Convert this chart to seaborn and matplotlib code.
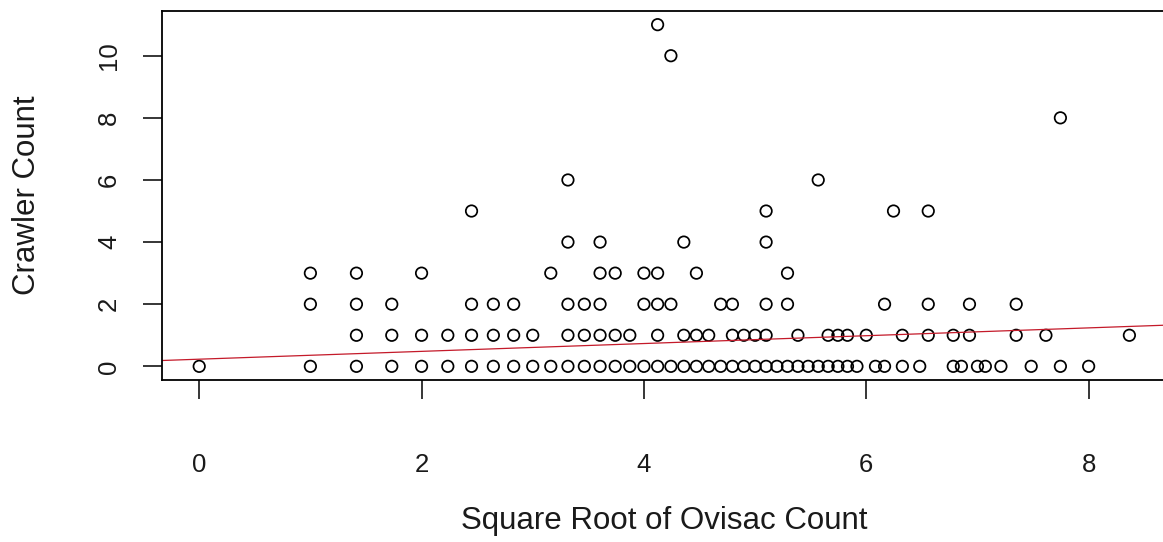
import numpy as np
import pandas as pd
import matplotlib
matplotlib.use("Agg")
import matplotlib.pyplot as plt
import seaborn as sns

# ---- data (ovisac counts grouped by crawler count) ----
ovisac_crawler_0 = [0, 1, 2, 3, 4, 5, 6, 7, 8, 9, 10, 11, 12, 13, 14, 15, 16, 17,
                    18, 19, 20, 21, 22, 23, 24, 25, 26, 27, 28, 29, 30, 31, 32, 33,
                    34, 35, 37, 38, 40, 42, 46, 47, 49, 50, 52, 56, 60, 64]
ovisac_crawler_1 = [2, 3, 4, 5, 6, 7, 8, 9, 11, 12, 13, 14, 15, 17, 19, 20, 21, 23,
                    24, 25, 26, 29, 32, 33, 34, 36, 40, 43, 46, 48, 54, 58, 70]
ovisac_crawler_2 = [1, 2, 3, 6, 7, 8, 11, 12, 13, 16, 17, 18, 22, 23, 26, 28, 38,
                    43, 48, 54]
ovisac_crawler_3 = [1, 2, 4, 10, 13, 14, 16, 17, 20, 28]
ovisac_crawler_4 = [11, 13, 19, 26]
ovisac_crawler_5 = [6, 26, 39, 43]
ovisac_crawler_6 = [11, 31]
ovisac_crawler_8 = [60]
ovisac_crawler_10 = [18]
ovisac_crawler_11 = [17]

crawler_levels = [0, 1, 2, 3, 4, 5, 6, 8, 10, 11]
ovisac_groups = [ovisac_crawler_0, ovisac_crawler_1, ovisac_crawler_2,
                 ovisac_crawler_3, ovisac_crawler_4, ovisac_crawler_5,
                 ovisac_crawler_6, ovisac_crawler_8, ovisac_crawler_10,
                 ovisac_crawler_11]

# fitted line
fit_intercept = 0.23
fit_slope = 0.126

x_ticks = [0, 2, 4, 6, 8]
y_ticks = [0, 2, 4, 6, 8, 10]
x_label = "Square Root of Ovisac Count"
y_label = "Crawler Count"

rows = []
for level, group in zip(crawler_levels, ovisac_groups):
    for n in group:
        rows.append((np.sqrt(n), level))
df = pd.DataFrame(rows, columns=["sqrt_ovisac", "crawler"])

# ---- styling ----
sns.set_theme(style="white")
plt.rcParams["font.family"] = ["Liberation Sans", "DejaVu Sans"]

W, H = 1163, 542
fig = plt.figure(figsize=(W / 100, H / 100), dpi=100)
left_px, right_px, top_px, bottom_px = 162, 1166.6, 11, 380
ax = fig.add_axes([left_px / W, (H - bottom_px) / H,
                   (right_px - left_px) / W, (bottom_px - top_px) / H])

sns.scatterplot(data=df, x="sqrt_ovisac", y="crawler", ax=ax, marker="o",
                s=68, facecolor="none", edgecolor="black", linewidth=1.25,
                legend=False)
ax.collections[0].set_facecolor("none")

ax.axline((0, fit_intercept), slope=fit_slope, color="#c41a2a", lw=0.9,
          zorder=1)

xmin, xmax = df["sqrt_ovisac"].min(), df["sqrt_ovisac"].max()
ymin, ymax = df["crawler"].min(), df["crawler"].max()
dx, dy = 0.04 * (xmax - xmin), 0.04 * (ymax - ymin)
ax.set_xlim(xmin - dx, xmax + dx)
ax.set_ylim(ymin - dy, ymax + dy)

ax.set_xticks(x_ticks)
ax.set_yticks(y_ticks)
ax.set_xticklabels([str(t) for t in x_ticks])
ax.set_yticklabels([str(t) for t in y_ticks], rotation=90, va="center")

for sp in ax.spines.values():
    sp.set_visible(True)
    sp.set_color("black")
    sp.set_linewidth(1.3)

ax.tick_params(axis="both", which="major", direction="out", length=13.5,
               width=1.1, color="black", labelcolor="#1a1a1a", labelsize=18.5,
               bottom=True, left=True)
ax.tick_params(axis="x", pad=39)
ax.tick_params(axis="y", pad=16)

ax.set_xlabel(x_label, fontsize=22.5, color="#1a1a1a")
ax.set_ylabel(y_label, fontsize=22.5, color="#1a1a1a")
ax.xaxis.set_label_coords(0.5, (bottom_px - 506) / (bottom_px - top_px))
ax.yaxis.set_label_coords((42 - left_px) / (right_px - left_px), 0.5)

fig.savefig("out.png", dpi=100, facecolor="white")
